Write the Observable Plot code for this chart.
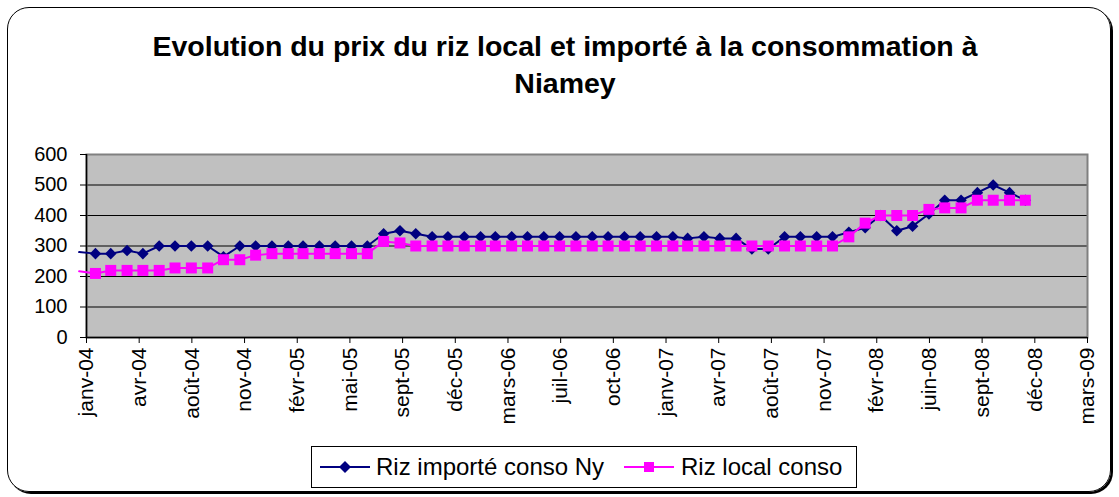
<!DOCTYPE html>
<html><head><meta charset="utf-8">
<script src="https://cdn.jsdelivr.net/npm/d3@7"></script>
<script src="https://cdn.jsdelivr.net/npm/@observablehq/plot@0.6"></script>
<style>
body{margin:0;background:#fff;font-family:"Liberation Sans",Arial,sans-serif;}
#wrap{position:relative;width:1119px;height:497px;overflow:hidden;background:#fff;}
#border{position:absolute;left:7px;top:7px;width:1102px;height:483px;border:1.5px solid #000;border-radius:22px;box-shadow:2px 2px 0 #000;}
#title{position:absolute;left:0;top:28px;width:1130px;text-align:center;font-weight:bold;font-size:28.5px;line-height:37px;color:#000;}
#chart{position:absolute;left:0;top:0;}
#legend{position:absolute;left:311px;top:446px;width:544px;height:40px;border:1px solid #000;background:#fff;}
.lt{position:absolute;top:0;line-height:40px;font-size:24px;color:#000;white-space:nowrap;}
.ls{position:absolute;top:13px;}
</style></head>
<body>
<div id="wrap">
  <div id="border"></div>
  <div id="title">Evolution du prix du riz local et importé à la consommation à<br>Niamey</div>
  <div id="chart"></div>
  <div id="legend">
    <svg class="ls" style="left:8px" width="50" height="14"><line x1="0" y1="7" x2="50" y2="7" stroke="#000080" stroke-width="2"/><path d="M25,1 L31,7 L25,13 L19,7Z" fill="#000080"/></svg>
    <span class="lt" style="left:64px">Riz importé conso Ny</span>
    <svg class="ls" style="left:312px" width="50" height="14"><line x1="0" y1="7" x2="50" y2="7" stroke="#ff00ff" stroke-width="2"/><rect x="20" y="2" width="10" height="10" fill="#ff00ff"/></svg>
    <span class="lt" style="left:369px">Riz local conso</span>
  </div>
</div>
<script>
// Monthly observation dates (first one lies just before the axis start)
const months = [
 "2004-01","2004-02","2004-03","2004-04","2004-05","2004-06","2004-07","2004-08","2004-09","2004-10","2004-11","2004-12",
 "2005-01","2005-02","2005-03","2005-04","2005-05","2005-06","2005-07","2005-08","2005-09","2005-10","2005-11","2005-12",
 "2006-01","2006-02","2006-03","2006-04","2006-05","2006-06","2006-07","2006-08","2006-09","2006-10","2006-11","2006-12",
 "2007-01","2007-02","2007-03","2007-04","2007-05","2007-06","2007-07","2007-08","2007-09","2007-10","2007-11","2007-12",
 "2008-01","2008-02","2008-03","2008-04","2008-05","2008-06","2008-07","2008-08","2008-09","2008-10","2008-11","2008-12"
];
const rizImporte = [
 280,275,275,285,275,300,300,300,300,265,300,300,
 300,300,300,300,300,300,300,340,350,340,330,330,
 330,330,330,330,330,330,330,330,330,330,330,330,
 330,330,325,330,325,325,290,290,330,330,330,330,
 345,360,400,350,365,405,450,450,475,500,475,450
];
const rizLocal = [
 217,210,220,220,220,220,228,228,228,255,255,270,
 275,275,275,275,275,275,275,315,310,300,300,300,
 300,300,300,300,300,300,300,300,300,300,300,300,
 300,300,300,300,300,300,300,300,300,300,300,300,
 330,375,400,400,400,420,425,425,450,450,450,450
];
const xDomain = ["2004-01-15","2009-03-29"];
const tickDates = ["2004-01-15","2004-04-24","2004-08-02","2004-11-10","2005-02-18","2005-05-29","2005-09-06","2005-12-15","2006-03-25","2006-07-03","2006-10-11","2007-01-19","2007-04-29","2007-08-07","2007-11-15","2008-02-23","2008-06-02","2008-09-10","2008-12-19","2009-03-29"];
const tickLabels = ["janv-04","avr-04","août-04","nov-04","févr-05","mai-05","sept-05","déc-05","mars-06","juil-06","oct-06","janv-07","avr-07","août-07","nov-07","févr-08","juin-08","sept-08","déc-08","mars-09"];
const yTicks = [0,100,200,300,400,500,600];
const gridValues = [100,200,300,400,500];

const parse = s => new Date(s.length === 7 ? s + "-01T00:00:00Z" : s + "T00:00:00Z");
const rows = months.map((m, i) => ({date: parse(m), imp: rizImporte[i], loc: rizLocal[i]}));
const xd = xDomain.map(parse);
const visible = rows.filter(d => d.date >= xd[0]);
const tDates = tickDates.map(parse);
const labelByTime = new Map(tDates.map((d, i) => [+d, tickLabels[i]]));

const chart = Plot.plot({
  width: 1119, height: 497,
  marginLeft: 86, marginRight: 32, marginTop: 154, marginBottom: 160,
  style: {fontFamily: "'Liberation Sans', Arial, sans-serif", fontSize: "20px", color: "#000", background: "transparent", overflow: "visible"},
  x: {type: "utc", domain: xd},
  y: {domain: [0, 600]},
  marks: [
    Plot.frame({fill: "#c0c0c0", stroke: "none"}),
    Plot.ruleY(gridValues, {stroke: "#000", strokeWidth: 1}),
    Plot.frame({stroke: "#808080", strokeWidth: 2}),
    Plot.ruleX([xd[0]], {stroke: "#000", strokeWidth: 1.5}),
    Plot.ruleY([0], {stroke: "#000", strokeWidth: 1.5}),
    Plot.axisY({ticks: yTicks, tickSize: 6, tickPadding: 13, fontSize: 20, anchor: "left"}),
    Plot.axisX({ticks: tDates, tickFormat: d => labelByTime.get(+d), tickRotate: -90, tickSize: 6, tickPadding: 4, fontSize: 21, anchor: "bottom"}),
    Plot.line(rows, {x: "date", y: "imp", stroke: "#000080", strokeWidth: 2}),
    Plot.dot(visible, {x: "date", y: "imp", symbol: "diamond2", r: 5.2, fill: "#000080", stroke: "none"}),
    Plot.line(rows, {x: "date", y: "loc", stroke: "#ff00ff", strokeWidth: 2}),
    Plot.dot(visible, {x: "date", y: "loc", symbol: "square", r: 6.2, fill: "#ff00ff", stroke: "none"})
  ]
});
document.getElementById("chart").appendChild(chart);
</script>
</body></html>
